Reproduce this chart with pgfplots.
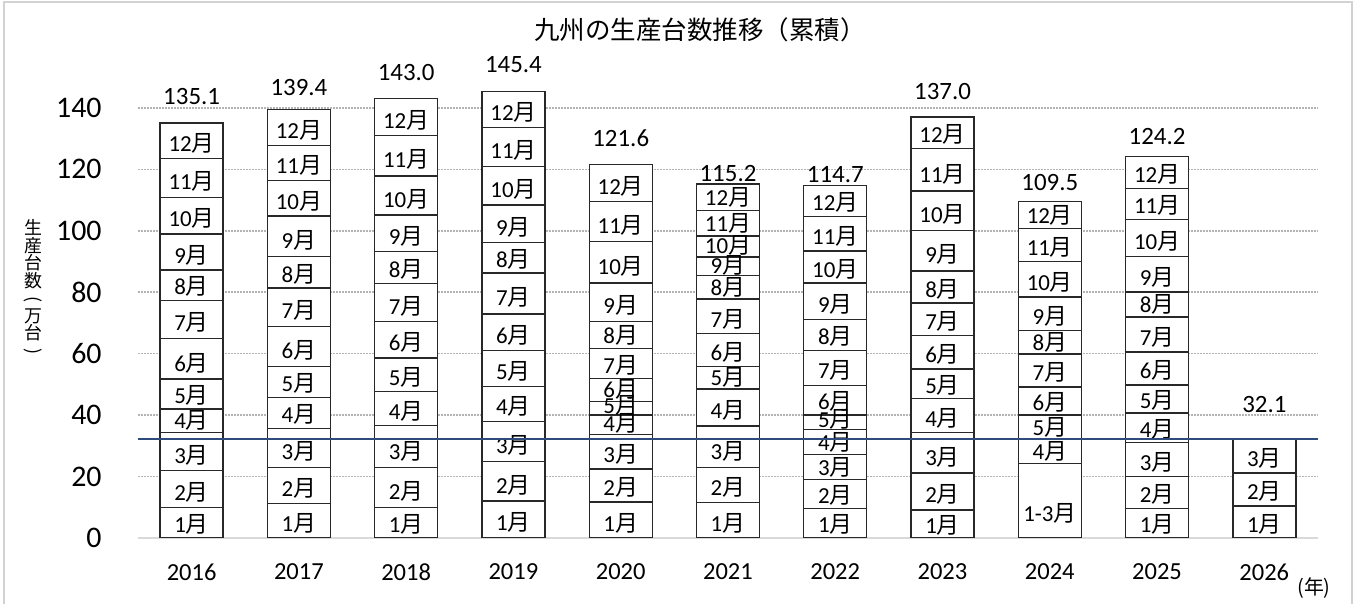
\documentclass[border=0pt]{standalone}
\usepackage{fontspec}
\setmainfont{Carlito}
\newfontfamily\jp{Noto Sans CJK JP}
\usepackage{pgfplots}
\usepackage{pgfplotstable}
\pgfplotsset{compat=1.18}

\definecolor{barline}{RGB}{40,40,40}
\definecolor{gridgrey}{RGB}{180,180,180}
\definecolor{axisgrey}{RGB}{217,217,217}
\definecolor{framegrey}{RGB}{210,210,210}
\definecolor{navy}{RGB}{47,75,124}

% monthly production (10k units), one row per year
\pgfplotstableread{
yr   m1   m2   m3   m4   m5   m6   m7   m8   m9   m10  m11  m12
2016 10.0 12.0 12.3 7.7  9.7  13.3 12.4 9.8  11.8 11.9 12.7 11.5
2017 11.3 11.6 12.8 10.1 10.1 13.0 12.5 10.3 13.1 11.6 11.4 11.6
2018 10.0 12.9 13.7 11.1 10.9 11.9 12.3 10.5 11.9 12.7 13.2 11.9
2019 12.1 12.8 13.0 11.4 11.8 11.8 13.4 9.8  12.3 12.5 12.8 11.7
2020 11.7 10.8 11.1 6.4  4.5  7.4  9.8  8.8  12.5 13.6 12.9 12.1
2021 11.5 11.5 13.5 12.0 7.4  10.6 11.3 7.6  6.1  6.8  8.4  8.5
2022 9.6  9.5  8.0  8.3  4.6  9.6  11.5 10.0 11.9 10.4 11.2 10.1
2023 9.1  12.0 13.2 11.2 9.5  10.9 10.6 10.4 13.2 12.8 13.8 10.3
2024 24.3 0    0    7.9  7.8  9.1  10.8 7.6  11.0 11.6 10.6 8.8
2025 9.7  10.3 11.1 9.6  9.1  10.7 11.4 8.2  11.6 12.0 10.0 10.5
2026 10.4 10.7 11.0 0    0    0    0    0    0    0    0    0
}\monthly

% yearly totals and where their labels sit
\pgfplotstableread{
yr   total ylab
2016 135.1 143.6
2017 139.4 146.8
2018 143.0 151.4
2019 145.4 154.0
2020 121.6 130.2
2021 115.2 118.8
2022 114.7 118.2
2023 137.0 145.2
2024 109.5 115.7
2025 124.2 130.7
2026 32.1  43.6
}\totals

% month label: nothing for empty segments, "1-3" for the merged 2024 block
\newcommand\mlabel[1]{%
  \pgfmathparse{\rawy>0.05}%
  \ifdim\pgfmathresult pt>0.5pt
    \pgfmathparse{\rawy>20}%
    \ifdim\pgfmathresult pt>0.5pt 1-3\else #1\fi{\jp 月}%
  \fi}

\pgfplotsset{
  frame/.style={
    at={(69bp,33bp)}, anchor=south west,
    scale only axis, width=590bp, height=230.4bp,
    xmin=2015.5, xmax=2026.5, ymin=0, ymax=150,
  }
}

\begin{document}
\begin{tikzpicture}
\useasboundingbox (0,0) rectangle (679bp,302bp);
\draw[framegrey, line width=1bp] (2bp,0) -- (2bp,301bp) -- (676bp,301bp) -- (676bp,0);

\begin{axis}[
    frame,
    ybar stacked, bar width=31.5bp,
    xtick={2016,...,2026},
    ytick={0,20,...,140},
    ymajorgrids,
    grid style={gridgrey, line width=0.75bp, dash pattern=on 0.75bp off 0.75bp},
    axis x line*=bottom, axis y line*=left,
    x axis line style={draw=axisgrey, line width=1bp, -},
    y axis line style={draw=none},
    major tick length=0pt,
    /pgf/number format/assume math mode=true,
    /pgf/number format/1000 sep={},
    xticklabel style={font=\fontsize{12.3}{12.3}\selectfont, anchor=center, yshift=-17bp},
    yticklabel style={font=\fontsize{15}{15}\selectfont, anchor=east, inner sep=0pt, xshift=-18bp},
    visualization depends on=rawy \as \rawy,
    every node near coord/.append style={
      font=\fontsize{11.5}{11.5}\selectfont, anchor=center, inner sep=0pt,
      shift={(axis direction cs:0,-\rawy/4)}, yshift=3bp},
  ]
  \pgfplotsinvokeforeach{1,...,12}{
    \addplot[draw=barline, fill=white, line width=0.7bp,
      nodes near coords={\mlabel{#1}}] table[x=yr, y=m#1] {\monthly};
  }
\end{axis}

\begin{axis}[
    frame, hide axis, clip=false,
    /pgf/number format/assume math mode=true,
  ]
  \addplot[navy, line width=1bp] coordinates {(2015.5,32.1) (2026.5,32.1)};
  \addplot[draw=none, point meta=\thisrow{total},
    nodes near coords={\pgfmathprintnumber[fixed, fixed zerofill, precision=1, assume math mode=true]{\pgfplotspointmeta}},
    every node near coord/.append style={font=\fontsize{12.5}{12.5}\selectfont, anchor=center, inner sep=0pt}]
    table[x=yr, y=ylab] {\totals};
\end{axis}

\node[font=\jp\fontsize{12.8}{12.8}\selectfont] at (350bp,287bp) {九州の生産台数推移（累積）};
\node[font=\jp\fontsize{9}{8.8}\selectfont, align=center, inner sep=0pt] at (16.5bp,157.7bp)
  {生\\産\\台\\数\\\rotatebox[origin=c]{-90}{(}\\万\\台\\\rotatebox[origin=c]{-90}{)}};
\node[font=\jp\fontsize{10}{10}\selectfont] at (657bp,8bp) {(年)};
\end{tikzpicture}
\end{document}
